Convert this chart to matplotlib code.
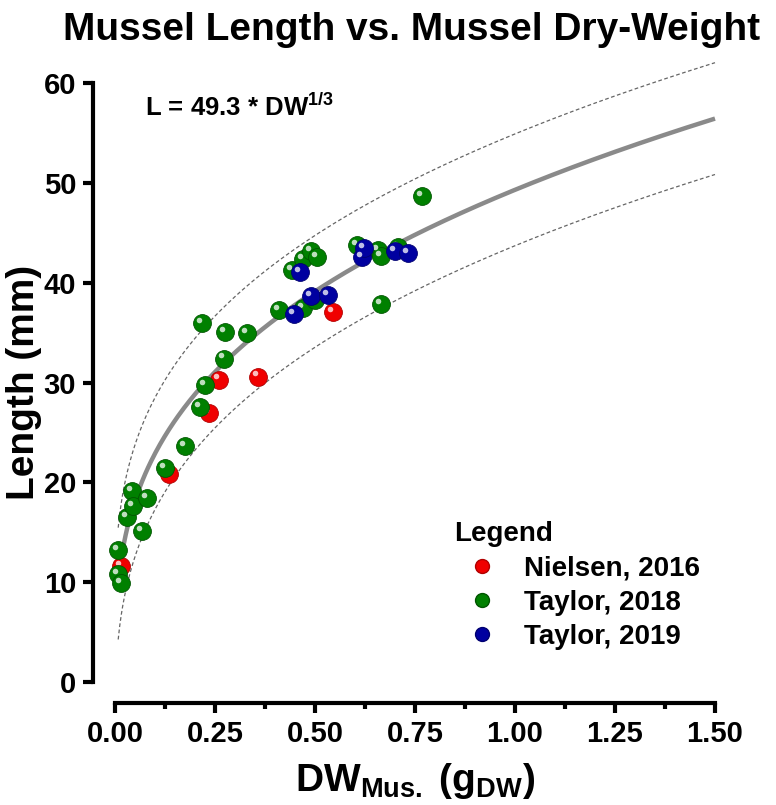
import numpy as np
import matplotlib
matplotlib.use("Agg")
import matplotlib.pyplot as plt
from matplotlib.lines import Line2D
from matplotlib.transforms import offset_copy

plt.rcParams['font.family'] = ['Liberation Sans', 'DejaVu Sans']
plt.rcParams['font.weight'] = 'bold'
plt.rcParams['mathtext.fontset'] = 'custom'
plt.rcParams['mathtext.rm'] = 'Liberation Sans:bold'
plt.rcParams['mathtext.bf'] = 'Liberation Sans:bold'
plt.rcParams['mathtext.it'] = 'Liberation Sans:bold'

# --- данные ---
nielsen_dw = [0.015, 0.136, 0.236, 0.260, 0.358, 0.546]
nielsen_len = [11.6, 20.8, 26.9, 30.3, 30.6, 37.1]

taylor18_dw = [0.008, 0.008, 0.014, 0.029, 0.043, 0.046, 0.067, 0.079, 0.125, 0.175,
               0.2125, 0.217, 0.225, 0.272, 0.276, 0.329, 0.410, 0.442, 0.470, 0.470,
               0.490, 0.500, 0.504, 0.604, 0.658, 0.665, 0.665, 0.708, 0.767]
taylor18_len = [13.2, 10.8, 9.9, 16.5, 19.1, 17.6, 15.1, 18.4, 21.4, 23.6,
                27.5, 36.0, 29.7, 32.4, 35.1, 35.0, 37.3, 41.3, 42.4, 37.5,
                43.2, 38.3, 42.6, 43.8, 43.3, 42.7, 37.9, 43.6, 48.7]

taylor19_dw = [0.4475, 0.4625, 0.490, 0.533, 0.617, 0.6225, 0.700, 0.733]
taylor19_len = [36.9, 41.1, 38.7, 38.8, 42.6, 43.5, 43.2, 43.0]

fit_coef = 49.3      # L = 49.3 * DW^(1/3)
band_offset = 5.6    # ширина пунктирной полосы
dw_min, dw_max = 0.008, 1.5

series = [
    ("Nielsen, 2016", nielsen_dw, nielsen_len, '#f00000', '#b00000'),
    ("Taylor, 2018", taylor18_dw, taylor18_len, '#008000', '#005500'),
    ("Taylor, 2019", taylor19_dw, taylor19_len, '#0000a0', '#000070'),
]

fig = plt.figure(figsize=(7.76, 8.05), dpi=100)
ax = fig.add_axes([115 / 776, 1 - 682 / 805, 600 / 776, 599 / 805])

# --- кривая и полосы ---
dw = np.linspace(dw_min, dw_max, 400)
fit = fit_coef * dw ** (1 / 3)
ax.plot(dw, fit, color='#8a8a8a', lw=3.2, zorder=2, solid_capstyle='butt', clip_on=False)
ax.plot(dw, fit + band_offset, color='#666666', lw=0.9, ls=(0, (3, 2)), zorder=2, clip_on=False)
ax.plot(dw, fit - band_offset, color='#666666', lw=0.9, ls=(0, (3, 2)), zorder=2, clip_on=False)

# --- точки (шарики с бликом) ---
hl = offset_copy(ax.transData, fig=fig, x=-2.2, y=2.2, units='points')
handles = []
for i, (name, xs, ys, col, edge) in enumerate(series):
    ax.scatter(xs, ys, s=165, color=col, edgecolors=edge, linewidths=0.6,
               zorder=3 + i * 2, clip_on=False)
    ax.scatter(xs, ys, s=16, color='white', alpha=0.75, linewidths=0,
               transform=hl, zorder=4 + i * 2, clip_on=False)
    handles.append(Line2D([], [], ls='none', marker='o', markersize=10,
                          markerfacecolor=col, markeredgecolor=edge, label=name))

# --- оси ---
ax.set_xlim(0, 1.5)
ax.set_ylim(0, 60)
ax.set_xticks(np.arange(0, 1.51, 0.25))
ax.set_xticks(np.arange(0, 1.51, 0.125), minor=True)
ax.set_yticks(np.arange(0, 61, 10))
ax.set_xticklabels([f"{v:.2f}" for v in np.arange(0, 1.51, 0.25)])

for s in ['top', 'right']:
    ax.spines[s].set_visible(False)
ax.spines['left'].set_position(('outward', 16))
ax.spines['bottom'].set_position(('outward', 15))
ax.spines['left'].set_linewidth(3)
ax.spines['bottom'].set_linewidth(3)
ax.spines['left'].set_bounds(0, 60)
ax.spines['bottom'].set_bounds(0, 1.5)

ax.tick_params(axis='both', which='major', direction='out', length=7, width=3,
               labelsize=21, pad=5)
ax.tick_params(axis='x', which='minor', direction='out', length=4, width=3)

ax.set_xlabel(r'DW$_{\mathrm{Mus.}}$ (g$_{\mathrm{DW}}$)', fontsize=28,
              fontweight='bold', labelpad=10)
ax.set_ylabel('Length (mm)', fontsize=28, fontweight='bold')
ax.yaxis.set_label_coords(-0.122, 0.5)

fig.suptitle('Mussel Length vs. Mussel Dry-Weight', fontsize=28,
             fontweight='bold', x=412 / 776, y=1 - 12 / 805, va='top')

ax.text(0.075, 57.6, r'L = 49.3 * DW$^{\mathrm{1/3}}$', fontsize=18.5,
        fontweight='bold', va='center', ha='left')

leg = ax.legend(handles=handles, title='Legend', loc='upper left',
                bbox_to_anchor=(443 / 776, 1 - 510 / 805),
                bbox_transform=fig.transFigure, frameon=False,
                fontsize=20, title_fontproperties={'weight': 'bold', 'size': 20},
                alignment='left', handletextpad=0.5, labelspacing=0.3,
                borderaxespad=0)

fig.savefig('out.png', dpi=100)
